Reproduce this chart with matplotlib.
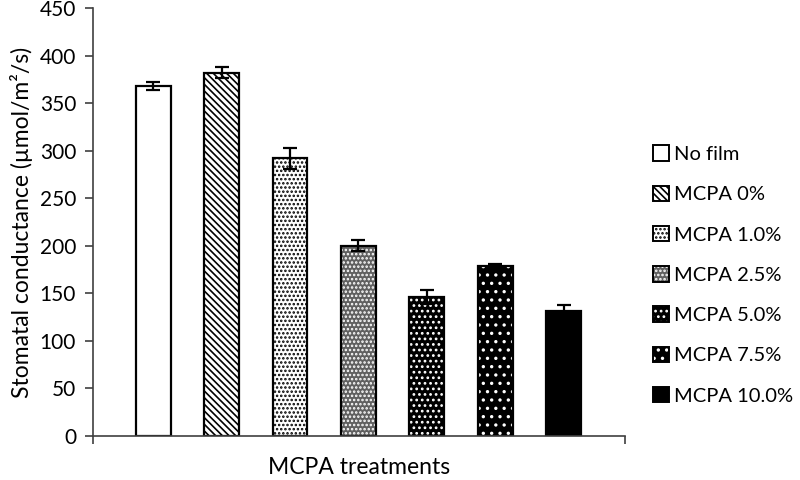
import numpy as np
import matplotlib
matplotlib.use("Agg")
import matplotlib.pyplot as plt
from matplotlib.patches import Patch

plt.rcParams['font.family'] = ['Lato', 'DejaVu Sans']
plt.rcParams['hatch.linewidth'] = 1.2

treatments = ["No film", "MCPA 0%", "MCPA 1.0%", "MCPA 2.5%", "MCPA 5.0%", "MCPA 7.5%", "MCPA 10.0%"]
conductance = [368, 382, 292, 200, 146, 179, 131]
errors = [4, 6, 11, 6, 7, 2, 7]

# fill, hatch, hatch colour for each treatment
styles = [
    ("white", "", "black"),
    ("white", "\\\\\\\\\\", "black"),
    ("white", "....", "black"),
    ("#606060", "....", "white"),
    ("black", "...", "white"),
    ("black", "..", "white"),
    ("black", "", "black"),
]

fig = plt.figure(figsize=(8, 4.8), dpi=100)
ax = fig.add_axes([0.116, 0.092, 0.665, 0.891])

x = np.arange(len(treatments))
w = 0.51
handles = []
for i, (fc, hatch, hc) in enumerate(styles):
    # first pass draws fill + hatch (hatch takes the edge colour), second pass the outline
    ax.bar(x[i], conductance[i], w, color=fc, edgecolor=hc, hatch=hatch, linewidth=0)
    ax.bar(x[i], conductance[i], w, fill=False, edgecolor="black", linewidth=1.6)
    ax.errorbar(x[i], conductance[i], yerr=errors[i], fmt="none", ecolor="black",
                elinewidth=1.6, capsize=5, capthick=1.6)
    handles.append((Patch(facecolor=fc, edgecolor=hc, hatch=hatch, linewidth=0),
                    Patch(fill=False, edgecolor="black", linewidth=1.4)))

ax.set_ylim(0, 450)
ax.set_xlim(-0.88, 6.89)
ax.set_yticks(range(0, 451, 50))
ax.set_xticks([-0.88, 6.89])
ax.set_xticklabels(["", ""])
ax.tick_params(axis="y", labelsize=15, length=6, width=1.2, color="#404040", pad=6)
ax.tick_params(axis="x", length=6, width=1.2, color="#404040")
for s in ["top", "right"]:
    ax.spines[s].set_visible(False)
for s in ["left", "bottom"]:
    ax.spines[s].set_color("#404040")
    ax.spines[s].set_linewidth(1.2)

ax.set_ylabel("Stomatal conductance (µmol/m²/s)", fontsize=16.5, labelpad=5)
ax.set_xlabel("MCPA treatments", fontsize=16.5, labelpad=6)

leg = fig.legend(handles, treatments, loc="center left", bbox_to_anchor=(0.794, 0.427),
                 frameon=False, fontsize=14.5, handlelength=0.8, handleheight=0.8,
                 handletextpad=0.25, labelspacing=1.12)

fig.savefig("out.png", dpi=100)
